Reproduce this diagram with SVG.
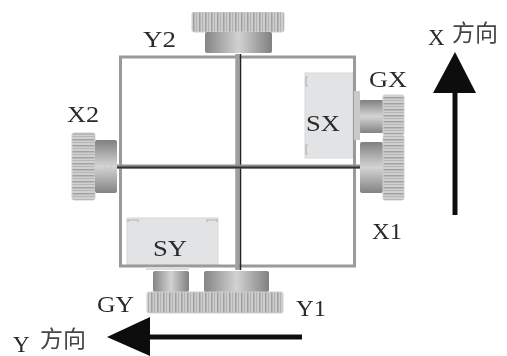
<svg xmlns="http://www.w3.org/2000/svg" width="507" height="356" viewBox="0 0 507 356">
<style>
.t{font-family:"Liberation Serif","Noto Sans CJK SC",serif;font-size:23px;fill:#2a2a2a}
.c{font-family:"Noto Sans CJK SC","Liberation Serif",serif;font-size:23px;fill:#444}
.frame{fill:none;stroke:#9a9a9a;stroke-width:3}
.sensor{fill:#e2e3e4;stroke:#d8d8d8;stroke-width:1}
.clip{fill:none;stroke:#b5b5b5;stroke-width:1.2}
.gv{fill:url(#teethV);stroke:#cfcfcf;stroke-width:1}
.gh{fill:url(#teethH);stroke:#cfcfcf;stroke-width:1}
.hv{fill:url(#hubV)}
.hh{fill:url(#hubH)}
.pin{fill:none;stroke:#c9c9c9;stroke-width:1}
</style>
<defs>
<filter id="soft" x="0" y="0" width="100%" height="100%"><feGaussianBlur stdDeviation="0.55"/></filter>
<linearGradient id="hubV" x1="0" x2="1" y1="0" y2="0"><stop offset="0" stop-color="#858585"/><stop offset=".5" stop-color="#d2d2d2"/><stop offset="1" stop-color="#808080"/></linearGradient>
<linearGradient id="hubH" x1="0" x2="0" y1="0" y2="1"><stop offset="0" stop-color="#808080"/><stop offset=".5" stop-color="#d4d4d4"/><stop offset="1" stop-color="#828282"/></linearGradient>
<pattern id="teethV" width="6" height="10" patternUnits="userSpaceOnUse"><rect width="6" height="10" fill="#cdcdcd"/><rect x="1" width="1.5" height="10" fill="#a0a0a0"/><rect x="4" width="1" height="10" fill="#b2b2b2"/></pattern>
<pattern id="teethH" width="10" height="6" patternUnits="userSpaceOnUse"><rect width="10" height="6" fill="#d0d0d0"/><rect y="1" width="10" height="1.5" fill="#a2a2a2"/><rect y="4" width="10" height="1" fill="#b6b6b6"/></pattern>
</defs>
<rect width="507" height="356" fill="#fff"/>
<g filter="url(#soft)">

<g id="sensor-sx"><rect class="sensor" x="305" y="73" width="48" height="85"/><path class="clip" d="M308 77h-2v9h2M308 145h-2v9h2"/><text class="t" x="306" y="131" textLength="34" lengthAdjust="spacingAndGlyphs">SX</text></g>
<g id="sensor-sy"><rect class="sensor" x="127" y="218" width="91" height="47"/><path class="clip" d="M128 222v-2h10v2M207 222v-2h10v2"/><text class="t" x="153" y="256" textLength="34" lengthAdjust="spacingAndGlyphs">SY</text></g>

<g id="frame"><rect class="frame" x="120.500" y="57" width="234" height="209"/></g>

<g id="connectors">
<path d="M237.500 54V270" stroke="#a0a0a0" stroke-width="4.500" fill="none"/>
<path d="M240.500 54V270" stroke="#222" stroke-width="1.500" fill="none"/>
<path d="M117 166.500H360" stroke="#8f8f8f" stroke-width="4" fill="none"/>
<path d="M117 167.500H360" stroke="#333" stroke-width="1.800" fill="none"/>
<path d="M455 215V88" stroke="#111" stroke-width="5" fill="none"/>
<polygon points="455,52 476,93 433,93" fill="#111"/>
<path d="M302 337H146" stroke="#111" stroke-width="5" fill="none"/>
<polygon points="107,337 150,317 150,356" fill="#111"/>
</g>

<g id="y2"><rect class="gv" x="192" y="12" width="92" height="20" rx="2"/><rect class="hv" x="205" y="32" width="67" height="21" rx="2"/><rect class="pin" x="236" y="42" width="5" height="6"/><text class="t" x="143" y="47" textLength="33" lengthAdjust="spacingAndGlyphs">Y2</text></g>

<g id="x2"><rect class="gh" x="72" y="133" width="23" height="67" rx="2"/><rect class="hh" x="95" y="140" width="22" height="53" rx="2"/><rect class="pin" x="105" y="164" width="6" height="5"/><text class="t" x="67" y="122" textLength="32" lengthAdjust="spacingAndGlyphs">X2</text></g>

<g id="gx"><rect x="354" y="91" width="6" height="49" fill="#c9c9c9"/><rect class="hh" x="360" y="100" width="23" height="33" rx="1"/><rect class="gh" x="383" y="95" width="21" height="40" rx="2"/><rect class="pin" x="364" y="114" width="6" height="5"/><text class="t" x="369" y="87" textLength="38" lengthAdjust="spacingAndGlyphs">GX</text></g>

<g id="x1"><rect class="hh" x="360" y="142" width="23" height="51" rx="2"/><rect class="gh" x="383" y="135" width="21" height="65" rx="2"/><rect class="pin" x="365" y="165" width="6" height="5"/><text class="t" x="372" y="239" textLength="30" lengthAdjust="spacingAndGlyphs">X1</text></g>

<g id="gy"><rect x="146" y="267" width="43" height="3" fill="#dcdcdc"/><rect class="hv" x="153" y="271" width="36" height="21" rx="2"/><rect class="gv" x="147" y="292" width="60" height="21" rx="2"/><rect class="pin" x="168" y="276" width="5" height="6"/><text class="t" x="97" y="312" textLength="37" lengthAdjust="spacingAndGlyphs">GY</text></g>

<g id="y1"><rect class="hv" x="204" y="271" width="65" height="21" rx="2"/><rect class="gv" x="204" y="292" width="79" height="21" rx="2"/><rect class="pin" x="234" y="276" width="5" height="6"/><text class="t" x="296" y="316" textLength="30" lengthAdjust="spacingAndGlyphs">Y1</text></g>

<g id="label-x"><text class="t" x="428" y="45">X</text><text class="c" x="452" y="41">方向</text></g>
<g id="label-y"><text class="t" x="13" y="352">Y</text><text class="c" x="40" y="347">方向</text></g>
</g>
</svg>
